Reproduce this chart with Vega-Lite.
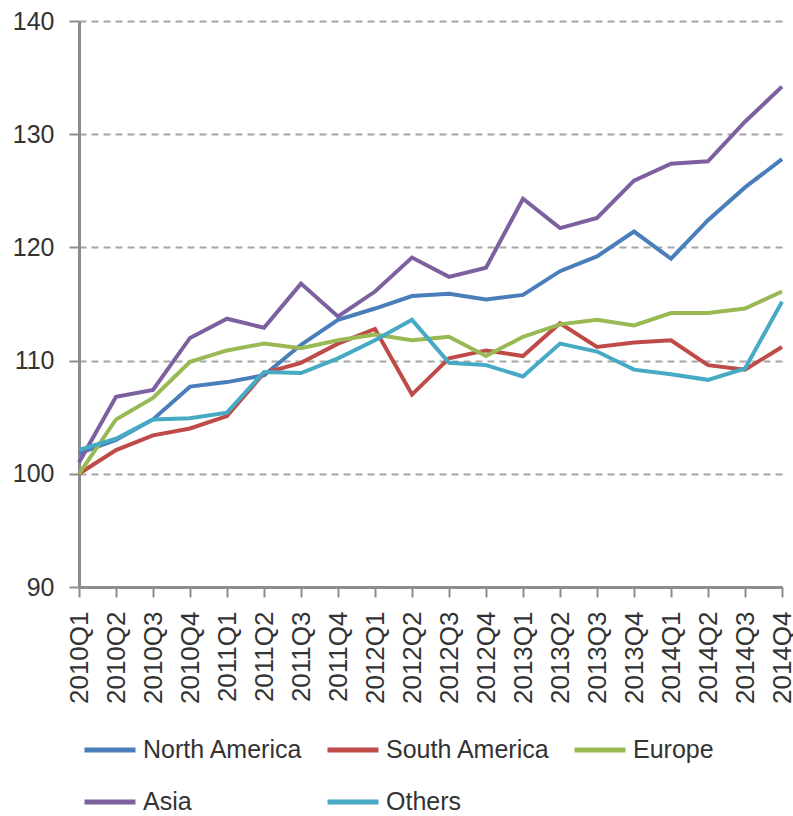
{
  "$schema": "https://vega.github.io/schema/vega-lite/v6.json",
  "autosize": {"type": "none"},
  "padding": {"left": 79, "top": 21, "right": 11, "bottom": 229},
  "width": 703,
  "height": 566,
  "background": "white",
  "config": {
    "view": {"stroke": null},
    "font": "Liberation Sans"
  },
  "data": {
    "values": [
      {"q":"2010Q1","region":"North America","v":101.8},{"q":"2010Q2","region":"North America","v":103.0},{"q":"2010Q3","region":"North America","v":104.8},{"q":"2010Q4","region":"North America","v":107.7},
      {"q":"2011Q1","region":"North America","v":108.1},{"q":"2011Q2","region":"North America","v":108.7},{"q":"2011Q3","region":"North America","v":111.4},{"q":"2011Q4","region":"North America","v":113.6},
      {"q":"2012Q1","region":"North America","v":114.6},{"q":"2012Q2","region":"North America","v":115.7},{"q":"2012Q3","region":"North America","v":115.9},{"q":"2012Q4","region":"North America","v":115.4},
      {"q":"2013Q1","region":"North America","v":115.8},{"q":"2013Q2","region":"North America","v":117.9},{"q":"2013Q3","region":"North America","v":119.2},{"q":"2013Q4","region":"North America","v":121.4},
      {"q":"2014Q1","region":"North America","v":119.0},{"q":"2014Q2","region":"North America","v":122.4},{"q":"2014Q3","region":"North America","v":125.3},{"q":"2014Q4","region":"North America","v":127.8},

      {"q":"2010Q1","region":"South America","v":100.0},{"q":"2010Q2","region":"South America","v":102.1},{"q":"2010Q3","region":"South America","v":103.4},{"q":"2010Q4","region":"South America","v":104.0},
      {"q":"2011Q1","region":"South America","v":105.1},{"q":"2011Q2","region":"South America","v":108.9},{"q":"2011Q3","region":"South America","v":109.8},{"q":"2011Q4","region":"South America","v":111.5},
      {"q":"2012Q1","region":"South America","v":112.8},{"q":"2012Q2","region":"South America","v":107.0},{"q":"2012Q3","region":"South America","v":110.2},{"q":"2012Q4","region":"South America","v":110.9},
      {"q":"2013Q1","region":"South America","v":110.4},{"q":"2013Q2","region":"South America","v":113.3},{"q":"2013Q3","region":"South America","v":111.2},{"q":"2013Q4","region":"South America","v":111.6},
      {"q":"2014Q1","region":"South America","v":111.8},{"q":"2014Q2","region":"South America","v":109.6},{"q":"2014Q3","region":"South America","v":109.2},{"q":"2014Q4","region":"South America","v":111.2},

      {"q":"2010Q1","region":"Europe","v":100.0},{"q":"2010Q2","region":"Europe","v":104.8},{"q":"2010Q3","region":"Europe","v":106.7},{"q":"2010Q4","region":"Europe","v":109.9},
      {"q":"2011Q1","region":"Europe","v":110.9},{"q":"2011Q2","region":"Europe","v":111.5},{"q":"2011Q3","region":"Europe","v":111.1},{"q":"2011Q4","region":"Europe","v":111.8},
      {"q":"2012Q1","region":"Europe","v":112.3},{"q":"2012Q2","region":"Europe","v":111.8},{"q":"2012Q3","region":"Europe","v":112.1},{"q":"2012Q4","region":"Europe","v":110.4},
      {"q":"2013Q1","region":"Europe","v":112.1},{"q":"2013Q2","region":"Europe","v":113.2},{"q":"2013Q3","region":"Europe","v":113.6},{"q":"2013Q4","region":"Europe","v":113.1},
      {"q":"2014Q1","region":"Europe","v":114.2},{"q":"2014Q2","region":"Europe","v":114.2},{"q":"2014Q3","region":"Europe","v":114.6},{"q":"2014Q4","region":"Europe","v":116.1},

      {"q":"2010Q1","region":"Asia","v":101.0},{"q":"2010Q2","region":"Asia","v":106.8},{"q":"2010Q3","region":"Asia","v":107.4},{"q":"2010Q4","region":"Asia","v":112.0},
      {"q":"2011Q1","region":"Asia","v":113.7},{"q":"2011Q2","region":"Asia","v":112.9},{"q":"2011Q3","region":"Asia","v":116.8},{"q":"2011Q4","region":"Asia","v":113.9},
      {"q":"2012Q1","region":"Asia","v":116.1},{"q":"2012Q2","region":"Asia","v":119.1},{"q":"2012Q3","region":"Asia","v":117.4},{"q":"2012Q4","region":"Asia","v":118.2},
      {"q":"2013Q1","region":"Asia","v":124.3},{"q":"2013Q2","region":"Asia","v":121.7},{"q":"2013Q3","region":"Asia","v":122.6},{"q":"2013Q4","region":"Asia","v":125.9},
      {"q":"2014Q1","region":"Asia","v":127.4},{"q":"2014Q2","region":"Asia","v":127.6},{"q":"2014Q3","region":"Asia","v":131.1},{"q":"2014Q4","region":"Asia","v":134.2},

      {"q":"2010Q1","region":"Others","v":102.1},{"q":"2010Q2","region":"Others","v":103.1},{"q":"2010Q3","region":"Others","v":104.8},{"q":"2010Q4","region":"Others","v":104.9},
      {"q":"2011Q1","region":"Others","v":105.4},{"q":"2011Q2","region":"Others","v":109.0},{"q":"2011Q3","region":"Others","v":108.9},{"q":"2011Q4","region":"Others","v":110.2},
      {"q":"2012Q1","region":"Others","v":111.8},{"q":"2012Q2","region":"Others","v":113.6},{"q":"2012Q3","region":"Others","v":109.8},{"q":"2012Q4","region":"Others","v":109.6},
      {"q":"2013Q1","region":"Others","v":108.6},{"q":"2013Q2","region":"Others","v":111.5},{"q":"2013Q3","region":"Others","v":110.8},{"q":"2013Q4","region":"Others","v":109.2},
      {"q":"2014Q1","region":"Others","v":108.8},{"q":"2014Q2","region":"Others","v":108.3},{"q":"2014Q3","region":"Others","v":109.3},{"q":"2014Q4","region":"Others","v":115.2}
    ]
  },
  "mark": {"type": "line", "strokeWidth": 4, "strokeJoin": "miter", "strokeCap": "butt"},
  "encoding": {
    "x": {
      "field": "q", "type": "ordinal",
      "scale": {"type": "point", "padding": 0},
      "axis": {
        "title": null, "labelAngle": -90, "labelFontSize": 26, "labelColor": "#333333",
        "labelPadding": 14, "tickSize": 10, "tickWidth": 2, "tickColor": "#8c8c8c",
        "domainColor": "#8c8c8c", "domainWidth": 3, "grid": false
      }
    },
    "y": {
      "field": "v", "type": "quantitative",
      "scale": {"domain": [90, 140], "nice": false, "zero": false},
      "axis": {
        "title": null, "values": [90, 100, 110, 120, 130, 140], "labelFontSize": 25, "labelColor": "#333333",
        "labelPadding": 15, "tickSize": 10, "tickWidth": 2, "tickColor": "#8c8c8c",
        "domainColor": "#8c8c8c", "domainWidth": 3,
        "grid": true, "gridColor": "#a6a6a6", "gridWidth": 2, "gridDash": [7, 5]
      }
    },
    "color": {
      "field": "region", "type": "nominal",
      "sort": ["North America", "South America", "Europe", "Asia", "Others"],
      "scale": {
        "domain": ["North America", "South America", "Europe", "Asia", "Others"],
        "range": ["#4a7ebb", "#be4b48", "#98b954", "#7d60a0", "#46aac5"]
      },
      "legend": {
        "title": null, "orient": "none", "legendX": 3, "legendY": 701,
        "direction": "horizontal", "columns": 3,
        "symbolType": "stroke", "symbolSize": 2601, "symbolStrokeWidth": 5,
        "labelFontSize": 25, "labelColor": "#333333", "labelOffset": 5,
        "columnPadding": 14, "rowPadding": 11, "labelLimit": 300
      }
    }
  }
}
